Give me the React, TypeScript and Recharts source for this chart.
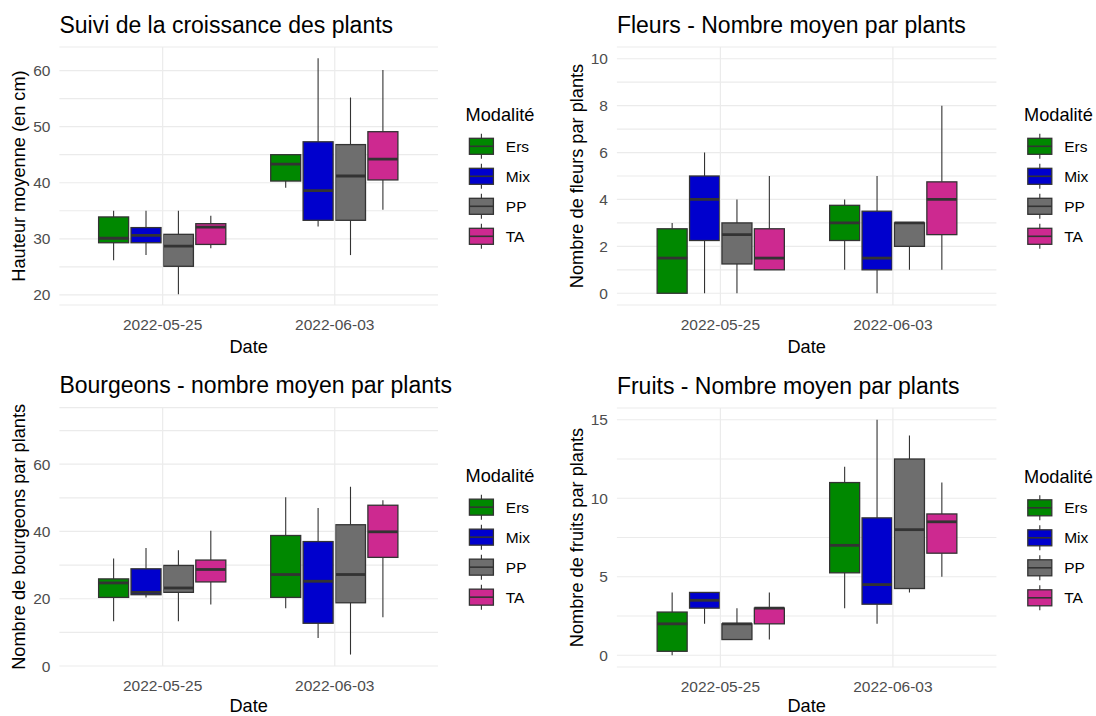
import React from 'react';
import { BarChart, Bar, XAxis, YAxis, CartesianGrid, ReferenceLine } from 'recharts';

// catégories et modalités
const dates = ['2022-05-25', '2022-06-03'];
const modalites = ['Ers', 'Mix', 'PP', 'TA'];
const couleurs = ['#008800', '#0000CD', '#6E6E6E', '#CD2990'];

// [min, q1, médiane, q3, max] pour chaque date
const hauteurErs = [[26.2, 29.3, 30.1, 33.9, 35.0], [39.1, 40.3, 43.3, 45.0, 45.0]];
const hauteurMix = [[27.1, 29.3, 30.6, 32.0, 35.0], [32.2, 33.3, 38.6, 47.3, 62.2]];
const hauteurPP = [[20.1, 25.1, 28.7, 30.8, 35.0], [27.1, 33.3, 41.2, 46.8, 55.2]];
const hauteurTA = [[28.3, 29.0, 32.1, 32.7, 34.1], [35.2, 40.5, 44.2, 49.1, 60.1]];

const fleursErs = [[0, 0, 1.5, 2.75, 3], [1, 2.25, 3, 3.75, 4]];
const fleursMix = [[0, 2.25, 4, 5, 6], [0, 1, 1.5, 3.5, 5]];
const fleursPP = [[0, 1.25, 2.5, 3, 4], [1, 2, 3, 3, 3]];
const fleursTA = [[1, 1, 1.5, 2.75, 5], [1, 2.5, 4, 4.75, 8]];

const bourgeonsErs = [[13.3, 20.4, 24.7, 25.9, 32.0], [17.2, 20.4, 27.2, 38.8, 50.2]];
const bourgeonsMix = [[20.4, 21.2, 21.9, 28.9, 35.1], [8.3, 12.7, 25.2, 37.0, 47.0]];
const bourgeonsPP = [[13.3, 21.9, 23.2, 29.9, 34.4], [3.4, 18.8, 27.2, 42.0, 53.3]];
const bourgeonsTA = [[18.3, 25.0, 28.7, 31.5, 40.2], [14.5, 32.3, 39.9, 47.8, 49.3]];

const fruitsErs = [[0, 0.25, 2, 2.75, 4], [3, 5.25, 7, 11, 12]];
const fruitsMix = [[2, 3, 3.5, 4, 4], [2, 3.25, 4.5, 8.75, 15]];
const fruitsPP = [[1, 1, 2, 2, 3], [4, 4.25, 8, 12.5, 14]];
const fruitsTA = [[1, 2, 3, 3, 4], [5, 6.5, 8.5, 9, 11]];

// graduations (majeures avec texte, mineures sans)
const hauteurMajor = [20, 30, 40, 50, 60];
const hauteurMinor = [25, 35, 45, 55];
const fleursMajor = [0, 2, 4, 6, 8, 10];
const fleursMinor = [1, 3, 5, 7, 9];
const bourgeonsMajor = [0, 20, 40, 60];
const bourgeonsMinor = [10, 30, 50, 70];
const fruitsMajor = [0, 5, 10, 15];
const fruitsMinor = [2.5, 7.5, 12.5];

const FONT = "'Liberation Sans', Arial, sans-serif";
const LINE = '#333333';
const GRID = '#EBEBEB';

const toRows = (series: number[][][]) =>
    dates.map((date, i) => {
        const row: any = { date };
        modalites.forEach((m, j) => {
            const [min, q1, med, q3, max] = series[j][i];
            row[m] = { min, q1, med, q3, max };
        });
        return row;
    });

// boîte à moustaches dessinée à partir du rectangle [min, max] calculé par recharts
const BoxShape = (props: any) => {
    const { x, y, width, height, payload, mod, color } = props;
    const s = payload[mod];
    const top = Math.min(y, y + height);
    const h = Math.abs(height);
    const k = h / (s.max - s.min);
    const py = (v: number) => top + (s.max - v) * k;
    const cx = x + width / 2;
    return (
        <g>
            <line x1={cx} x2={cx} y1={py(s.max)} y2={py(s.q3)} stroke={LINE} strokeWidth={1.1} />
            <line x1={cx} x2={cx} y1={py(s.q1)} y2={py(s.min)} stroke={LINE} strokeWidth={1.1} />
            <rect x={x} y={py(s.q3)} width={width} height={Math.max(py(s.q1) - py(s.q3), 0.5)} fill={color} stroke={LINE} strokeWidth={1.3} />
            <line x1={x} x2={x + width} y1={py(s.med)} y2={py(s.med)} stroke={LINE} strokeWidth={2.8} />
        </g>
    );
};

const XTitle = ({ viewBox, dy }: any) => (
    <text x={viewBox.x + viewBox.width / 2} y={viewBox.y + dy} textAnchor="middle" fontSize={18.2} fill="#000">Date</text>
);

const YTitle = ({ viewBox, text, dx }: any) => {
    const cx = viewBox.x + viewBox.width - dx;
    const cy = viewBox.y + viewBox.height / 2;
    return (
        <text x={cx} y={cy} transform={`rotate(-90 ${cx} ${cy})`} textAnchor="middle" dominantBaseline="central" fontSize={18.2} fill="#000">
            {text}
        </text>
    );
};

function Panel({ left, top, plot, title, yLabel, yDx, xDy, series, domain, major, minor }: any) {
    const W = 548, H = 358, axisW = 40, axisH = 50;
    const rows = toRows(series);
    const ticks = [...major, ...minor].sort((a: number, b: number) => a - b);
    const unit = (plot.right - plot.left) / 2.2;
    const legendY = (plot.top + plot.bottom) / 2 - 55;
    return (
        <div style={{ position: 'absolute', left, top, width: W, height: H }}>
            <div style={{ position: 'absolute', left: plot.left, top: plot.top - 14 - 19.5, fontSize: 23, lineHeight: '23px', whiteSpace: 'nowrap', color: '#000' }}>
                {title}
            </div>
            <BarChart
                width={W}
                height={H}
                data={rows}
                margin={{ top: plot.top, right: W - plot.right, left: plot.left - axisW, bottom: H - plot.bottom - axisH }}
                barSize={30}
                barGap={2.4}
            >
                <CartesianGrid vertical={false} stroke={GRID} strokeWidth={1.2} />
                {dates.map((d) => (
                    <ReferenceLine key={d} x={d} stroke={GRID} strokeWidth={1.2} />
                ))}
                <XAxis
                    dataKey="date"
                    interval={0}
                    height={axisH}
                    padding={{ left: unit * 0.1, right: unit * 0.1 }}
                    axisLine={false}
                    tickLine={false}
                    tickSize={0}
                    tickMargin={14}
                    tick={{ fontSize: 15.5, fill: '#4D4D4D' }}
                    label={(p: any) => <XTitle viewBox={p.viewBox} dy={xDy} />}
                />
                <YAxis
                    type="number"
                    domain={domain}
                    allowDataOverflow
                    ticks={ticks}
                    interval={0}
                    width={axisW}
                    axisLine={false}
                    tickLine={false}
                    tickSize={0}
                    tickMargin={9}
                    tick={{ fontSize: 15.5, fill: '#4D4D4D' }}
                    tickFormatter={(v: number) => (major.includes(v) ? String(v) : '')}
                    label={(p: any) => <YTitle viewBox={p.viewBox} text={yLabel} dx={yDx} />}
                />
                {modalites.map((m, j) => (
                    <Bar
                        key={m}
                        name={m}
                        dataKey={(r: any) => [r[m].min, r[m].max]}
                        isAnimationActive={false}
                        shape={(p: any) => <BoxShape {...p} mod={m} color={couleurs[j]} />}
                    />
                ))}
            </BarChart>
            {/* légende */}
            <svg width={W} height={H} style={{ position: 'absolute', left: 0, top: 0, pointerEvents: 'none' }}>
                <text x={plot.right + 27.6} y={legendY} fontSize={18.2} fill="#000">Modalité</text>
                {modalites.map((m, j) => {
                    const cy = legendY + 25.3 + 30 * j;
                    const kx = plot.right + 31.4;
                    return (
                        <g key={m}>
                            <line x1={kx + 12} x2={kx + 12} y1={cy - 12.5} y2={cy + 12.5} stroke={LINE} strokeWidth={1.1} />
                            <rect x={kx} y={cy - 8} width={24} height={16} fill={couleurs[j]} stroke={LINE} strokeWidth={1.3} />
                            <line x1={kx} x2={kx + 24} y1={cy} y2={cy} stroke={LINE} strokeWidth={1.6} />
                            <text x={plot.right + 67.8} y={cy} dominantBaseline="central" fontSize={15.5} fill="#000">{m}</text>
                        </g>
                    );
                })}
            </svg>
        </div>
    );
}

export default function App() {
    return (
        <div style={{ position: 'absolute', left: 0, top: 0, width: 1096, height: 716, background: '#fff', fontFamily: FONT, overflow: 'hidden' }}>
            <Panel
                left={0}
                top={0}
                plot={{ left: 59.4, right: 438, top: 47, bottom: 305 }}
                title="Suivi de la croissance des plants"
                yLabel="Hauteur moyenne (en cm)"
                yDx={40}
                xDy={48}
                series={[hauteurErs, hauteurMix, hauteurPP, hauteurTA]}
                domain={[18.2, 64.2]}
                major={hauteurMajor}
                minor={hauteurMinor}
            />
            <Panel
                left={548}
                top={0}
                plot={{ left: 68.9, right: 448.4, top: 47, bottom: 305 }}
                title="Fleurs - Nombre moyen par plants"
                yLabel="Nombre de fleurs par plants"
                yDx={39.5}
                xDy={48}
                series={[fleursErs, fleursMix, fleursPP, fleursTA]}
                domain={[-0.5, 10.5]}
                major={fleursMajor}
                minor={fleursMinor}
            />
            <Panel
                left={0}
                top={358}
                plot={{ left: 59.4, right: 438, top: 49.7, bottom: 308 }}
                title="Bourgeons - nombre moyen par plants"
                yLabel="Nombre de bourgeons par plants"
                yDx={40}
                xDy={45.5}
                series={[bourgeonsErs, bourgeonsMix, bourgeonsPP, bourgeonsTA]}
                domain={[0, 76.8]}
                major={bourgeonsMajor}
                minor={bourgeonsMinor}
            />
            <Panel
                left={548}
                top={358}
                plot={{ left: 68.9, right: 448.4, top: 50, bottom: 309 }}
                title="Fruits - Nombre moyen par plants"
                yLabel="Nombre de fruits par plants"
                yDx={39.5}
                xDy={44.5}
                series={[fruitsErs, fruitsMix, fruitsPP, fruitsTA]}
                domain={[-0.75, 15.75]}
                major={fruitsMajor}
                minor={fruitsMinor}
            />
        </div>
    );
}
